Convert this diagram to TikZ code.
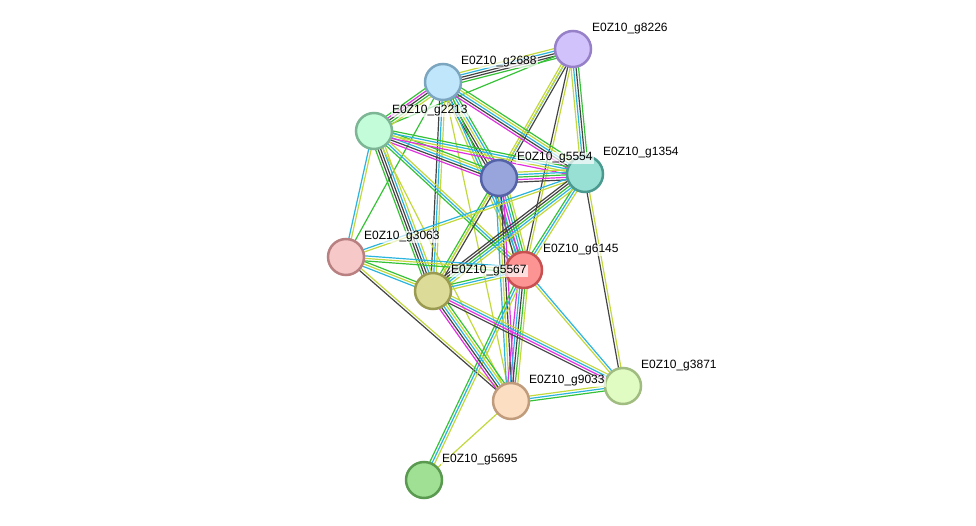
\documentclass[tikz,border=0pt]{standalone}
\usepackage{fontspec}
\setmainfont{Liberation Sans}
\usetikzlibrary{calc}
\definecolor{lime}{HTML}{C2D83C}
\definecolor{cyn}{HTML}{2AB4DE}
\definecolor{grn}{HTML}{36C236}
\definecolor{drk}{HTML}{444444}
\definecolor{mag}{HTML}{E030E0}
\newcommand\stredge[3]{%
  \foreach \c [count=\i] in {#3} {\xdef\ncount{\i}}%
  \foreach \c [count=\i] in {#3} {%
    \pgfmathsetmacro\off{(\i-(\ncount+1)/2)*2.5}%
    \draw[\c, line width=1.2pt] ($(#1)!\off pt!90:(#2)$) -- ($(#2)!\off pt!-90:(#1)$);
  }%
}
\tikzset{
  prot/.style={circle, minimum size=36pt, inner sep=0pt, line width=2.5pt},
  lbl/.style={anchor=west, font=\fontsize{12}{14}\selectfont, fill=white, fill opacity=0.7, text opacity=1, inner sep=1pt}
}
\begin{document}
\begin{tikzpicture}[x=1pt,y=-1pt]
\useasboundingbox (0,0) rectangle (976,526);
\coordinate (cA) at (573,49);
\coordinate (cB) at (443,82);
\coordinate (cC) at (374,131);
\coordinate (cD) at (499,178);
\coordinate (cE) at (585,174);
\coordinate (cF) at (346,257);
\coordinate (cG) at (524,270);
\coordinate (cH) at (433,291);
\coordinate (cI) at (511,401);
\coordinate (cJ) at (623,386);
\coordinate (cK) at (424,480);
% edges
\stredge{cA}{cB}{lime,cyn,drk,drk,grn}
\stredge{cA}{cC}{grn}
\stredge{cA}{cD}{lime,cyn,drk}
\stredge{cA}{cE}{lime,cyn,drk,grn}
\stredge{cA}{cG}{drk,lime}
\stredge{cA}{cH}{lime}
\stredge{cB}{cC}{grn,mag,drk,grn,lime}
\stredge{cB}{cD}{drk,drk,lime,cyn,grn}
\stredge{cB}{cE}{mag,drk,cyn,lime,grn}
\stredge{cB}{cF}{grn}
\stredge{cB}{cG}{lime,cyn,grn}
\stredge{cB}{cH}{drk,cyn,lime}
\stredge{cB}{cI}{lime}
\stredge{cC}{cD}{mag,drk,cyn,lime,grn}
\stredge{cC}{cE}{mag,lime,cyn,grn}
\stredge{cC}{cF}{cyn,lime}
\stredge{cC}{cG}{grn,cyn,lime}
\stredge{cC}{cH}{grn,drk,drk,cyn,lime}
\stredge{cC}{cI}{lime}
\stredge{cD}{cE}{drk,mag,grn,cyn,lime}
\stredge{cD}{cG}{drk,cyn,mag,cyn,grn,lime}
\stredge{cD}{cH}{grn,lime,drk}
\stredge{cD}{cI}{cyn,lime,drk,mag}
\stredge{cE}{cF}{cyn,lime}
\stredge{cE}{cG}{grn,cyn,lime}
\stredge{cE}{cH}{drk,drk,grn,cyn,lime}
\stredge{cE}{cJ}{drk,lime}
\stredge{cF}{cG}{grn,lime,cyn}
\stredge{cF}{cH}{cyn,lime,grn}
\stredge{cF}{cI}{drk,lime}
\stredge{cG}{cH}{grn,cyn,lime}
\stredge{cG}{cI}{mag,cyn,drk,grn,lime}
\stredge{cG}{cJ}{lime,cyn}
\stredge{cG}{cK}{grn,cyn,lime}
\stredge{cH}{cI}{mag,drk,cyn,lime,grn}
\stredge{cH}{cJ}{drk,mag,cyn,lime}
\stredge{cI}{cJ}{grn,cyn,lime}
\stredge{cI}{cK}{lime}
% nodes
\node[prot, fill={rgb,255:red,210;green,194;blue,252}, draw={rgb,255:red,150;green,128;blue,200}] (A) at (cA) {};
\node[prot, fill={rgb,255:red,192;green,230;blue,252}, draw={rgb,255:red,124;green,166;blue,192}] (B) at (cB) {};
\node[prot, fill={rgb,255:red,194;green,252;blue,216}, draw={rgb,255:red,124;green,182;blue,148}] (C) at (cC) {};
\node[prot, fill={rgb,255:red,152;green,164;blue,220}, draw={rgb,255:red,84;green,98;blue,168}] (D) at (cD) {};
\node[prot, fill={rgb,255:red,152;green,224;blue,212}, draw={rgb,255:red,74;green,154;blue,144}] (E) at (cE) {};
\node[prot, fill={rgb,255:red,246;green,200;blue,200}, draw={rgb,255:red,184;green,128;blue,128}] (F) at (cF) {};
\node[prot, fill={rgb,255:red,252;green,148;blue,148}, draw={rgb,255:red,200;green,80;blue,80}] (G) at (cG) {};
\node[prot, fill={rgb,255:red,220;green,220;blue,152}, draw={rgb,255:red,154;green,154;blue,80}] (H) at (cH) {};
\node[prot, fill={rgb,255:red,252;green,222;blue,194}, draw={rgb,255:red,192;green,156;blue,124}] (I) at (cI) {};
\node[prot, fill={rgb,255:red,224;green,252;blue,194}, draw={rgb,255:red,160;green,188;blue,128}] (J) at (cJ) {};
\node[prot, fill={rgb,255:red,160;green,224;blue,148}, draw={rgb,255:red,90;green,154;blue,80}] (K) at (cK) {};
% labels
\node[lbl] (lA) at ($(cA)+(18,-20)$) {E0Z10\_g8226};
\node[lbl] (lB) at ($(cB)+(17,-20)$) {E0Z10\_g2688};
\node[lbl] (lC) at ($(cC)+(17,-20)$) {E0Z10\_g2213};
\node[lbl] (lD) at ($(cD)+(17,-20)$) {E0Z10\_g5554};
\node[lbl] (lE) at ($(cE)+(17,-21)$) {E0Z10\_g1354};
\node[lbl] (lF) at ($(cF)+(17,-20)$) {E0Z10\_g3063};
\node[lbl] (lG) at ($(cG)+(18,-20)$) {E0Z10\_g6145};
\node[lbl] (lH) at ($(cH)+(17,-20)$) {E0Z10\_g5567};
\node[lbl] (lI) at ($(cI)+(17,-20)$) {E0Z10\_g9033};
\node[lbl] (lJ) at ($(cJ)+(17,-20)$) {E0Z10\_g3871};
\node[lbl] (lK) at ($(cK)+(17,-20)$) {E0Z10\_g5695};
\end{tikzpicture}
\end{document}
